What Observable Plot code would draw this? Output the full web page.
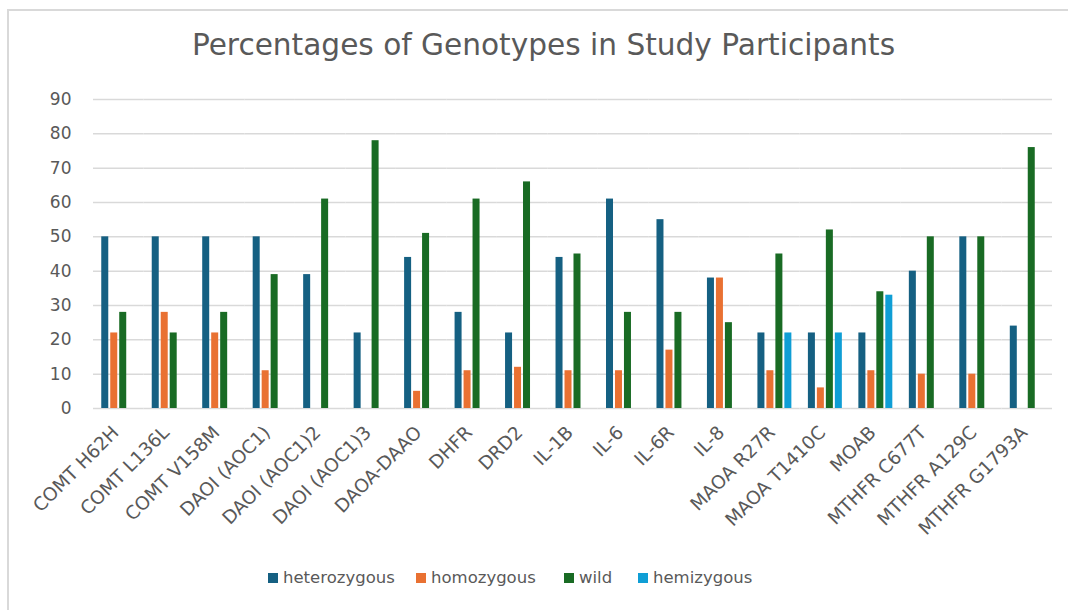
<!DOCTYPE html>
<html>
<head>
<meta charset="utf-8">
<script src="https://cdn.jsdelivr.net/npm/d3@7"></script>
<script src="https://cdn.jsdelivr.net/npm/@observablehq/plot@0.6"></script>
<style>
  html, body { margin: 0; padding: 0; background: #fff; overflow: hidden; width: 1068px; height: 610px; }
  body { font-family: "DejaVu Sans", sans-serif; position: relative; }
  #frame { position: absolute; left: 7px; top: 9px; width: 1100px; height: 700px; border: 2px solid #d9d9d9; box-sizing: border-box; }
  #title { position: absolute; left: 0; width: 1087px; top: 31px; text-align: center; font-size: 29.6px; line-height: 1; color: #595959; }
  #chart { position: absolute; left: 0; top: 80px; }
  #legend { position: absolute; left: 268px; top: 568px; display: flex; align-items: center; font-size: 16.5px; color: #595959; }
  #legend .item { display: flex; align-items: center; }
  #legend .sw { width: 10px; height: 10px; margin-right: 5px; }
</style>
</head>
<body>
<div id="frame"></div>
<div id="title">Percentages of Genotypes in Study Participants</div>
<div id="chart"></div>
<div id="legend"></div>
<script>
const categories = ["COMT H62H", "COMT L136L", "COMT V158M", "DAOI (AOC1)", "DAOI (AOC1)2", "DAOI (AOC1)3", "DAOA-DAAO", "DHFR", "DRD2", "IL-1B", "IL-6", "IL-6R", "IL-8", "MAOA R27R", "MAOA T1410C", "MOAB", "MTHFR C677T", "MTHFR A129C", "MTHFR G1793A"];
const seriesNames = ["heterozygous", "homozygous", "wild", "hemizygous"];
const colors = ["#156082", "#E97132", "#196B24", "#0F9ED5"];
const heterozygous = [50, 50, 50, 50, 39, 22, 44, 28, 22, 44, 61, 55, 38, 22, 22, 22, 40, 50, 24];
const homozygous   = [22, 28, 22, 11, null, null, 5, 11, 12, 11, 11, 17, 38, 11, 6, 11, 10, 10, null];
const wild         = [28, 22, 28, 39, 61, 78, 51, 61, 66, 45, 28, 28, 25, 45, 52, 34, 50, 50, 76];
const hemizygous   = [null, null, null, null, null, null, null, null, null, null, null, null, null, 22, 22, 33, null, null, null];
const yTicks = [0, 10, 20, 30, 40, 50, 60, 70, 80, 90];

const seriesValues = [heterozygous, homozygous, wild, hemizygous];
const data = [];
categories.forEach((c, i) => {
  seriesNames.forEach((s, j) => {
    const v = seriesValues[j][i];
    if (v != null) data.push({category: c, series: s, value: v});
  });
});

const chart = Plot.plot({
  width: 1068,
  height: 470,
  marginLeft: 93,
  marginRight: 16,
  marginTop: 19,
  marginBottom: 142,
  style: {fontFamily: "'DejaVu Sans', sans-serif", fontSize: "18.5px", color: "#595959", background: "transparent"},
  fx: {domain: categories, padding: 0, round: false, label: null},
  x: {domain: seriesNames, axis: null, round: false, paddingInner: 0.22, paddingOuter: 0.92},
  y: {domain: [0, 90], label: null, ticks: yTicks, tickSize: 0, tickPadding: 22},
  color: {domain: seriesNames, range: colors},
  marks: [
    Plot.ruleY(yTicks, {stroke: "#d9d9d9", strokeWidth: 1.5}),
    Plot.barY(data, {fx: "category", x: "series", y: "value", fill: "series"}),
    Plot.axisY({ticks: yTicks, tickSize: 0, tickPadding: 22, fontSize: 17, fill: "#595959", label: null}),
    Plot.axisFx({anchor: "bottom", tickRotate: -45, tickSize: 0, tickPadding: 21, dx: -3, fontSize: 18.5, fill: "#595959", label: null})
  ]
});
document.getElementById("chart").appendChild(chart);

const legend = document.getElementById("legend");
const itemWidths = [148, 148, 74, null];
seriesNames.forEach((s, j) => {
  const item = document.createElement("div");
  item.className = "item";
  if (itemWidths[j]) item.style.width = itemWidths[j] + "px";
  const sw = document.createElement("div");
  sw.className = "sw";
  sw.style.background = colors[j];
  const t = document.createElement("span");
  t.textContent = s;
  item.appendChild(sw);
  item.appendChild(t);
  legend.appendChild(item);
});
</script>
</body>
</html>
